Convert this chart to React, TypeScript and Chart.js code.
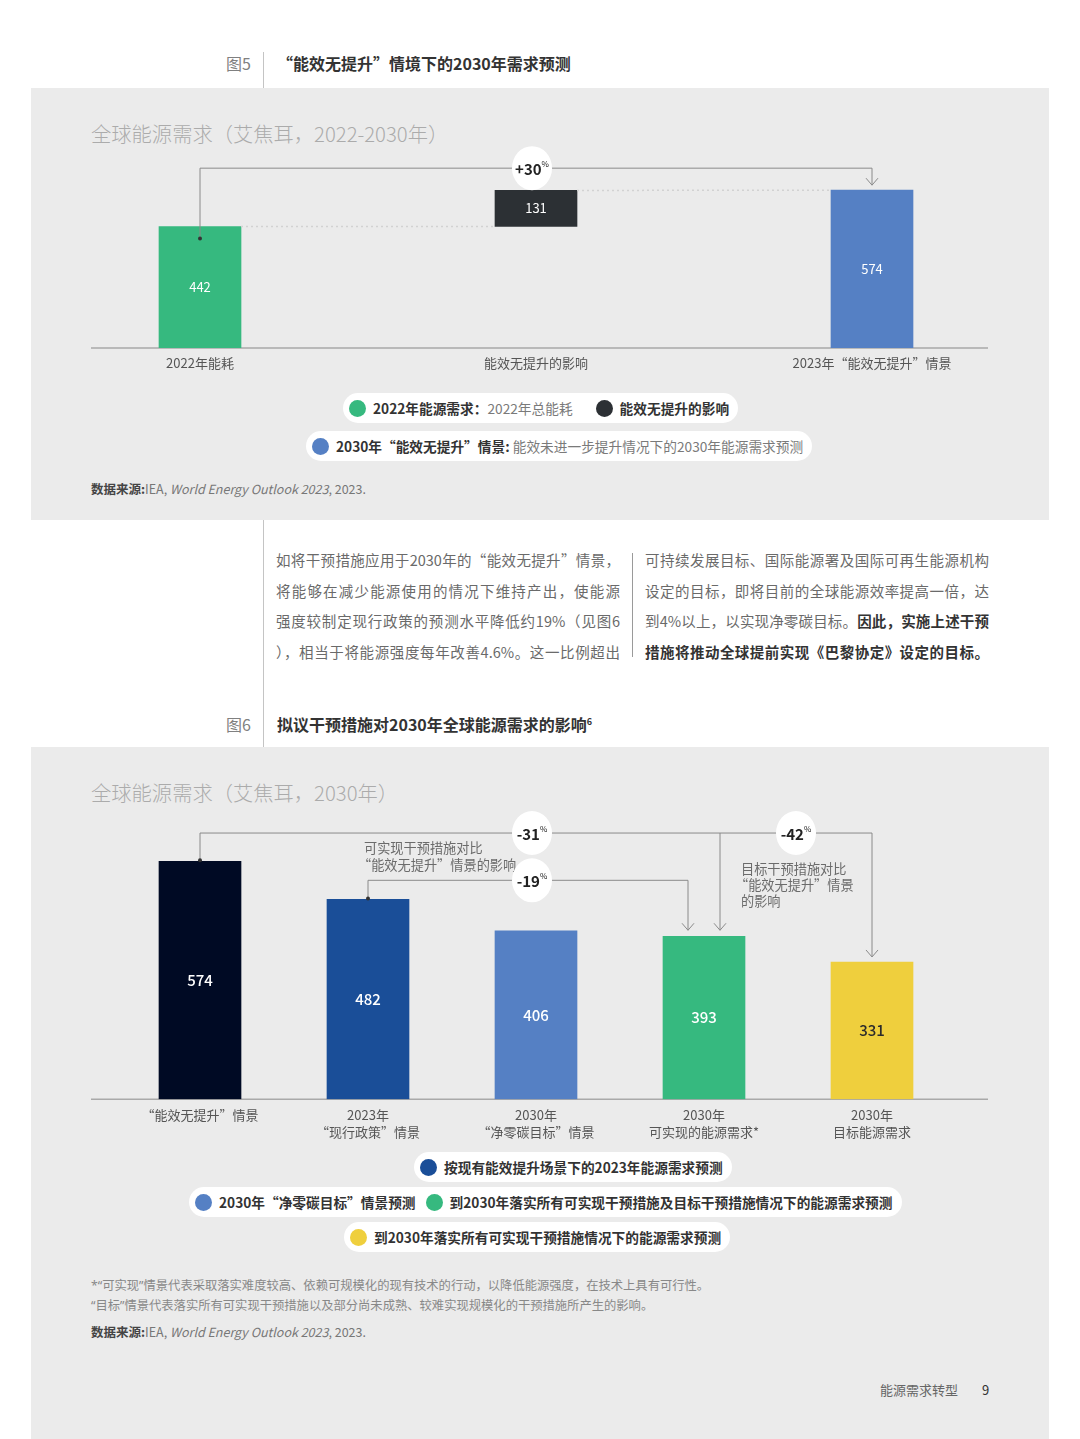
import { useEffect, useRef } from 'react';
import { Chart, registerables } from 'chart.js';

Chart.register(...registerables);

const FONT = '"Noto Sans CJK SC", "Noto Sans", sans-serif';
const LATIN_FIRST = '"Noto Sans", "Noto Sans CJK SC", sans-serif';

// Figure 5: waterfall, 2022 -> 2030 (EJ)
const fig5Categories = ['2022年能耗', '能效无提升的影响', '2023年“能效无提升”情景'];
const fig5Values = [442, 131, 574];
const fig5Colors = ['#36b97f', '#2c3034', '#5580c4'];
const fig5Change = '+30';
const fig5BracketLevel = 654;

// Figure 6: 2030 demand by scenario (EJ)
const fig6Categories = [
  ['“能效无提升”情景'],
  ['2023年', '“现行政策”情景'],
  ['2030年', '“净零碳目标”情景'],
  ['2030年', '可实现的能源需求*'],
  ['2030年', '目标能源需求'],
];
const fig6Values = [574, 482, 406, 393, 331];
const fig6Colors = ['#000a24', '#1a4e98', '#5580c4', '#36b97f', '#efcf3d'];
const fig6LabelColors = ['#ffffff', '#ffffff', '#ffffff', '#ffffff', '#2b2b2b'];
const fig6Changes = ['-31', '-19', '-42'];
const fig6BracketLevels = [642, 528];

const fig5Legend = [
  { gap: 23, items: [
    { color: '#36b97f', bold: '2022年能源需求：', text: '2022年总能耗' },
    { color: '#2c3034', bold: '能效无提升的影响', text: '' },
  ] },
  { gap: 0, items: [
    { color: '#5580c4', bold: '2030年“能效无提升”情景: ', text: '能效未进一步提升情况下的2030年能源需求预测' },
  ] },
];

const fig6Legend = [
  { gap: 0, items: [{ color: '#1a4e98', bold: '按现有能效提升场景下的2023年能源需求预测', text: '' }] },
  { gap: 10, items: [
    { color: '#5580c4', bold: '2030年“净零碳目标”情景预测', text: '' },
    { color: '#36b97f', bold: '到2030年落实所有可实现干预措施及目标干预措施情况下的能源需求预测', text: '' },
  ] },
  { gap: 0, items: [{ color: '#efcf3d', bold: '到2030年落实所有可实现干预措施情况下的能源需求预测', text: '' }] },
];

function barGeom(chart: any) {
  return chart.getDatasetMeta(0).data.map((b: any) => b.getProps(['x', 'y', 'base', 'width'], true));
}

function drawBaseline(chart: any) {
  const ctx = chart.ctx;
  const y = chart.scales.y.getPixelForValue(0);
  ctx.save();
  ctx.strokeStyle = '#a9a9a9';
  ctx.lineWidth = 1.5;
  ctx.beginPath();
  ctx.moveTo(60, y);
  ctx.lineTo(957, y);
  ctx.stroke();
  ctx.restore();
}

function arrowHead(ctx: CanvasRenderingContext2D, x: number, tip: number) {
  ctx.beginPath();
  ctx.moveTo(x - 6, tip - 7);
  ctx.lineTo(x, tip);
  ctx.lineTo(x + 6, tip - 7);
  ctx.stroke();
}

function dot(ctx: CanvasRenderingContext2D, x: number, y: number) {
  ctx.fillStyle = '#333';
  ctx.beginPath();
  ctx.arc(x, y, 2, 0, Math.PI * 2);
  ctx.fill();
}

function bubble(ctx: CanvasRenderingContext2D, x: number, y: number, text: string) {
  ctx.save();
  ctx.fillStyle = '#ffffff';
  ctx.beginPath();
  ctx.ellipse(x, y, 20, 22, 0, 0, Math.PI * 2);
  ctx.fill();
  ctx.font = `600 15px ${FONT}`;
  const w = ctx.measureText(text).width;
  ctx.font = `400 8px ${FONT}`;
  const pw = ctx.measureText('%').width;
  const x0 = x - (w + pw) / 2;
  ctx.fillStyle = '#222';
  ctx.textAlign = 'left';
  ctx.textBaseline = 'middle';
  ctx.font = `600 15px ${FONT}`;
  ctx.fillText(text, x0, y + 1);
  ctx.font = `400 8px ${FONT}`;
  ctx.fillText('%', x0 + w, y - 4);
  ctx.restore();
}

const fig5Overlay = {
  id: 'fig5Overlay',
  beforeDatasetsDraw(chart: any) {
    drawBaseline(chart);
  },
  afterDatasetsDraw(chart: any) {
    const ctx = chart.ctx as CanvasRenderingContext2D;
    const bars = barGeom(chart);
    ctx.save();
    // dotted connectors
    ctx.strokeStyle = '#d2d2d2';
    ctx.lineWidth = 1.5;
    ctx.setLineDash([2, 3]);
    ctx.beginPath();
    ctx.moveTo(bars[0].x + bars[0].width / 2, bars[0].y);
    ctx.lineTo(bars[1].x - bars[1].width / 2, bars[1].base);
    ctx.moveTo(bars[1].x + bars[1].width / 2, bars[1].y);
    ctx.lineTo(bars[2].x - bars[2].width / 2, bars[2].y);
    ctx.stroke();
    ctx.setLineDash([]);
    // values
    ctx.font = `400 13px ${FONT}`;
    ctx.textAlign = 'center';
    ctx.textBaseline = 'middle';
    ctx.fillStyle = '#ffffff';
    bars.forEach((b: any, i: number) => ctx.fillText(String(fig5Values[i]), b.x, (b.y + b.base) / 2));
    // bracket
    const lev = chart.scales.y.getPixelForValue(fig5BracketLevel);
    ctx.strokeStyle = '#8a8a8a';
    ctx.lineWidth = 1;
    ctx.beginPath();
    ctx.moveTo(bars[0].x, bars[0].y + 12);
    ctx.lineTo(bars[0].x, lev);
    ctx.lineTo(bars[2].x, lev);
    ctx.lineTo(bars[2].x, bars[2].y - 5);
    ctx.stroke();
    arrowHead(ctx, bars[2].x, bars[2].y - 5);
    dot(ctx, bars[0].x, bars[0].y + 12);
    bubble(ctx, bars[1].x - 4, lev, fig5Change);
    ctx.restore();
  },
};

const fig6Overlay = {
  id: 'fig6Overlay',
  beforeDatasetsDraw(chart: any) {
    drawBaseline(chart);
  },
  afterDatasetsDraw(chart: any) {
    const ctx = chart.ctx as CanvasRenderingContext2D;
    const bars = barGeom(chart);
    const ys = chart.scales.y;
    ctx.save();
    // values
    ctx.font = `500 15px ${FONT}`;
    ctx.textAlign = 'center';
    ctx.textBaseline = 'middle';
    bars.forEach((b: any, i: number) => {
      ctx.fillStyle = fig6LabelColors[i];
      ctx.fillText(String(fig6Values[i]), b.x, (b.y + b.base) / 2);
    });
    const levA = ys.getPixelForValue(fig6BracketLevels[0]);
    const levB = ys.getPixelForValue(fig6BracketLevels[1]);
    const dropA = bars[3].x + 16;
    const dropB = bars[3].x - 16;
    ctx.strokeStyle = '#8a8a8a';
    ctx.lineWidth = 1;
    ctx.beginPath();
    ctx.moveTo(bars[0].x, bars[0].y - 1);
    ctx.lineTo(bars[0].x, levA);
    ctx.lineTo(bars[4].x, levA);
    ctx.lineTo(bars[4].x, bars[4].y - 5);
    ctx.moveTo(dropA, levA);
    ctx.lineTo(dropA, bars[3].y - 6);
    ctx.moveTo(bars[1].x, bars[1].y - 1);
    ctx.lineTo(bars[1].x, levB);
    ctx.lineTo(dropB, levB);
    ctx.lineTo(dropB, bars[3].y - 6);
    ctx.stroke();
    arrowHead(ctx, bars[4].x, bars[4].y - 5);
    arrowHead(ctx, dropA, bars[3].y - 6);
    arrowHead(ctx, dropB, bars[3].y - 6);
    dot(ctx, bars[0].x, bars[0].y - 1);
    dot(ctx, bars[1].x, bars[1].y - 1);
    // annotations
    ctx.fillStyle = '#6b6b6b';
    ctx.font = `400 13.2px ${FONT}`;
    ctx.textAlign = 'left';
    ctx.fillText('可实现干预措施对比', bars[1].x - 4, levA + 15);
    ctx.fillText('“能效无提升”情景的影响', bars[1].x - 10, levA + 32);
    ctx.fillText('目标干预措施对比', dropA + 21, levA + 36);
    ctx.fillText('“能效无提升”情景', dropA + 15, levA + 52);
    ctx.fillText('的影响', dropA + 21, levA + 68);
    // change bubbles
    bubble(ctx, bars[2].x - 4, levA, fig6Changes[0]);
    bubble(ctx, bars[2].x - 4, levB, fig6Changes[1]);
    bubble(ctx, (dropA + bars[4].x) / 2, levA, fig6Changes[2]);
    ctx.restore();
  },
};

function baseOptions(max: number, padding: any) {
  return {
    responsive: true,
    maintainAspectRatio: false,
    animation: false as const,
    events: [],
    layout: { padding },
    plugins: { legend: { display: false }, tooltip: { enabled: false } },
    scales: {
      x: {
        grid: { display: false, drawTicks: false, tickLength: 0 },
        border: { display: false },
        ticks: {
          color: '#555',
          font: { family: FONT, size: 13, lineHeight: 1.3 },
          padding: 7,
          maxRotation: 0,
          autoSkip: false,
        },
      },
      y: { display: false, min: 0, max },
    },
  };
}

function Fig5Chart() {
  const ref = useRef<HTMLCanvasElement>(null);
  useEffect(() => {
    if (!ref.current) return;
    const start = fig5Values[0];
    const data = [[0, start], [start, start + fig5Values[1]], [0, fig5Values[2]]];
    const chart = new Chart(ref.current, {
      type: 'bar',
      data: {
        labels: fig5Categories,
        datasets: [{ data: data as any, backgroundColor: fig5Colors, barThickness: 82, borderSkipped: false }],
      },
      options: baseOptions(720, { left: 1, right: 9, top: 10, bottom: 1 }) as any,
      plugins: [fig5Overlay],
    });
    return () => chart.destroy();
  }, []);
  return (
    <div style={{ position: 'absolute', left: 31, top: 140, width: 1018, height: 240 }}>
      <canvas ref={ref} />
    </div>
  );
}

function Fig6Chart() {
  const ref = useRef<HTMLCanvasElement>(null);
  useEffect(() => {
    if (!ref.current) return;
    const opts: any = baseOptions(700, { left: 85, right: 93, top: 9, bottom: 5 });
    opts.scales.x.ticks.padding = 7.5;
    const chart = new Chart(ref.current, {
      type: 'bar',
      data: {
        labels: fig6Categories,
        datasets: [{ data: fig6Values, backgroundColor: fig6Colors, barThickness: 82 }],
      },
      options: opts,
      plugins: [fig6Overlay],
    });
    return () => chart.destroy();
  }, []);
  return (
    <div style={{ position: 'absolute', left: 31, top: 800, width: 1018, height: 353 }}>
      <canvas ref={ref} />
    </div>
  );
}

function abs(x: number, y: number, h = 20): any {
  return { position: 'absolute', left: x, top: y - h / 2, height: h, lineHeight: `${h}px`, whiteSpace: 'nowrap' };
}

function Pill({ left, y, row }: { left: number; y: number; row: any }) {
  return (
    <div
      style={{
        position: 'absolute', left, top: y - 15, height: 30, borderRadius: 15, background: '#fff',
        display: 'flex', alignItems: 'center', padding: '0 9px 0 6px', whiteSpace: 'nowrap', fontSize: 13.7,
      }}
    >
      {row.items.map((it: any, i: number) => (
        <span key={i} style={{ display: 'flex', alignItems: 'center', marginLeft: i ? row.gap : 0 }}>
          <span style={{ width: 17, height: 17, borderRadius: '50%', background: it.color, marginRight: 7 }} />
          <span style={{ fontWeight: 700, color: '#333', whiteSpace: 'pre' }}>{it.bold}</span>
          {it.text && <span style={{ color: '#7a7a7a' }}>{it.text}</span>}
        </span>
      ))}
    </div>
  );
}

function Source({ y }: { y: number }) {
  return (
    <div style={{ ...abs(91, y, 18), fontSize: 12.5, color: '#777' }}>
      <span style={{ fontWeight: 700, color: '#444' }}>数据来源:</span>IEA, <i>World Energy Outlook 2023</i>, 2023.
    </div>
  );
}

const lineStyle: any = { width: 344, height: 30.7, lineHeight: '30.7px', textAlign: 'justify', textAlignLast: 'justify', whiteSpace: 'nowrap' };

export default function App() {
  return (
    <div style={{ position: 'absolute', left: 0, top: 0, width: 1080, height: 1439, background: '#fff', overflow: 'hidden', fontFamily: FONT }}>
      {/* figure 5 heading */}
      <div style={{ ...abs(226, 63, 22), fontSize: 16, color: '#808080' }}>图5</div>
      <div style={{ position: 'absolute', left: 263, top: 52, width: 1, height: 36, background: '#c4c4c4' }} />
      <div style={{ ...abs(277, 63, 22), fontSize: 16, fontWeight: 700, color: '#333' }}>“能效无提升”情境下的2030年需求预测</div>

      {/* figure 5 panel */}
      <div style={{ position: 'absolute', left: 31, top: 88, width: 1018, height: 432, background: '#ebebeb' }} />
      <div style={{ ...abs(91, 133, 28), fontSize: 20.3, fontWeight: 300, color: '#ababab' }}>全球能源需求（艾焦耳，2022-2030年）</div>
      <Fig5Chart />
      <Pill left={343} y={408} row={fig5Legend[0]} />
      <Pill left={306} y={446} row={fig5Legend[1]} />
      <Source y={489} />

      {/* body text */}
      <div style={{ position: 'absolute', left: 263, top: 520, width: 1, height: 227, background: '#c4c4c4' }} />
      <div style={{ position: 'absolute', left: 632, top: 553, width: 1, height: 104, background: '#9a9a9a' }} />
      <div style={{ position: 'absolute', left: 276, top: 545, fontSize: 14.5, color: '#6a6a6a' }}>
        <div style={lineStyle}>如将干预措施应用于2030年的“能效无提升”情景，</div>
        <div style={lineStyle}>将能够在减少能源使用的情况下维持产出，使能源</div>
        <div style={lineStyle}>强度较制定现行政策的预测水平降低约19%（见图6</div>
        <div style={lineStyle}>），相当于将能源强度每年改善4.6%。这一比例超出</div>
      </div>
      <div style={{ position: 'absolute', left: 645, top: 545, fontSize: 14.5, color: '#6a6a6a' }}>
        <div style={lineStyle}>可持续发展目标、国际能源署及国际可再生能源机构</div>
        <div style={lineStyle}>设定的目标，即将目前的全球能源效率提高一倍，达</div>
        <div style={lineStyle}>到4%以上，以实现净零碳目标。<b style={{ color: '#333' }}>因此，实施上述干预</b></div>
        <div style={{ ...lineStyle, fontWeight: 700, color: '#333' }}>措施将推动全球提前实现《巴黎协定》设定的目标。</div>
      </div>

      {/* figure 6 heading */}
      <div style={{ ...abs(226, 724, 22), fontSize: 16, color: '#808080' }}>图6</div>
      <div style={{ ...abs(277, 724, 22), fontSize: 16, fontWeight: 700, color: '#333' }}>
        拟议干预措施对2030年全球能源需求的影响<span style={{ fontSize: 9, position: 'relative', top: -6 }}>6</span>
      </div>

      {/* figure 6 panel */}
      <div style={{ position: 'absolute', left: 31, top: 747, width: 1018, height: 692, background: '#ebebeb' }} />
      <div style={{ ...abs(91, 792, 28), fontSize: 20.3, fontWeight: 300, color: '#ababab' }}>全球能源需求（艾焦耳，2030年）</div>
      <Fig6Chart />
      <Pill left={414} y={1167} row={fig6Legend[0]} />
      <Pill left={189} y={1202} row={fig6Legend[1]} />
      <Pill left={344} y={1237} row={fig6Legend[2]} />

      <div style={{ ...abs(91, 1286, 18), fontSize: 12.3, color: '#888', fontFamily: LATIN_FIRST }}>
        *“可实现”情景代表采取落实难度较高、依赖可规模化的现有技术的行动，以降低能源强度，在技术上具有可行性。
      </div>
      <div style={{ ...abs(91, 1306, 18), fontSize: 12.3, color: '#888', fontFamily: LATIN_FIRST }}>
        “目标”情景代表落实所有可实现干预措施以及部分尚未成熟、较难实现规模化的干预措施所产生的影响。
      </div>
      <Source y={1332} />

      <div style={{ ...abs(880, 1390, 18), fontSize: 13, color: '#666' }}>能源需求转型</div>
      <div style={{ ...abs(982, 1390, 18), fontSize: 13, color: '#333' }}>9</div>
    </div>
  );
}
